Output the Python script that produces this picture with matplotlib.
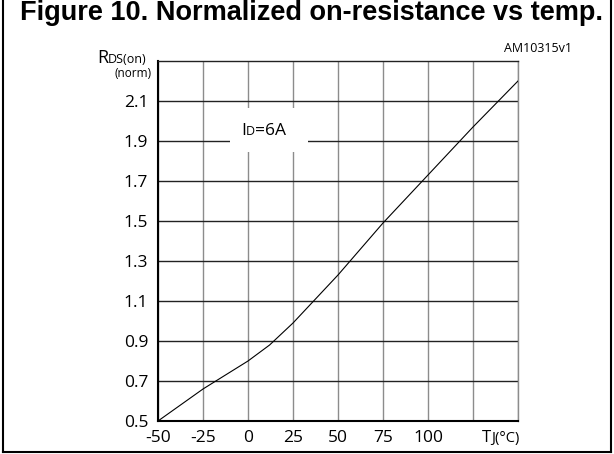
import matplotlib
matplotlib.use('Agg')
import matplotlib.pyplot as plt
from matplotlib.lines import Line2D
from matplotlib.patches import Rectangle

# data
temp_c = [-50, -25, 0, 12, 25, 50, 75, 100, 125, 150]
rds_norm = [0.50, 0.66, 0.80, 0.88, 0.99, 1.23, 1.49, 1.73, 1.97, 2.20]

x_ticks = [-50, -25, 0, 25, 50, 75, 100, 125, 150]
x_labels = ['-50', '-25', '0', '25', '50', '75', '100', '', '']
y_ticks = [0.5, 0.7, 0.9, 1.1, 1.3, 1.5, 1.7, 1.9, 2.1]
y_labels = ['0.5', '0.7', '0.9', '1.1', '1.3', '1.5', '1.7', '1.9', '2.1']

W, H = 614, 454
FONT = 'Open Sans'

fig = plt.figure(figsize=(W / 100, H / 100), dpi=100)
fig.patch.set_facecolor('white')
ax = fig.add_axes([158 / W, 33 / H, 360 / W, 360 / H])

ax.plot(temp_c, rds_norm, color='black', lw=0.8, zorder=3)

ax.set_xlim(-50, 150)
ax.set_ylim(0.5, 2.3)
ax.set_xticks(x_ticks)
ax.set_xticklabels(x_labels, fontfamily=FONT, fontsize=12.5)
ax.set_yticks(y_ticks)
ax.set_yticklabels(y_labels, fontfamily=FONT, fontsize=12.5)
ax.tick_params(length=0)
ax.tick_params(axis='y', pad=7)
ax.tick_params(axis='x', pad=6.5)

ax.set_axisbelow(True)
ax.grid(axis='y', color='#222222', lw=1.0)
ax.grid(axis='x', color='#8c8c8c', lw=1.0)

for side in ['left', 'bottom']:
    ax.spines[side].set_linewidth(1.5)
    ax.spines[side].set_color('black')
ax.spines['top'].set_linewidth(1.0)
ax.spines['top'].set_color('#222222')
ax.spines['right'].set_linewidth(1.0)
ax.spines['right'].set_color('#8c8c8c')

# white patch behind the current label
ax.add_patch(Rectangle((-10, 1.845), 43.3, 0.22, facecolor='white',
                       edgecolor='none', zorder=2))

renderer = fig.canvas.get_renderer()


def compound(x, y, parts):
    # x, y in pixels from top-left, parts = [(text, size), ...]
    for s, size in parts:
        t = fig.text(x / W, 1 - y / H, s, fontsize=size, fontfamily=FONT,
                     ha='left', va='baseline')
        x = t.get_window_extent(renderer).x1


compound(241, 135, [('I', 12.5), ('D', 9), ('=6A', 12.5)])
compound(97, 63, [('R', 13), ('DS(on)', 9)])
fig.text(152 / W, 1 - 74 / H, '(norm)', fontsize=8.5, fontfamily=FONT,
         ha='right', va='center')
compound(482, 442, [('T', 12), ('J(°C)', 10.5)])
fig.text(572 / W, 1 - 49 / H, 'AM10315v1', fontsize=9, fontfamily=FONT,
         ha='right', va='center')

fig.text(311 / W, 1 - 13.5 / H, 'Figure 10. Normalized on-resistance vs temp.',
         fontsize=19.5, fontweight='bold', fontfamily='Liberation Sans',
         ha='center', va='center')

# frame around the figure
for xs, ys in [([3, 3], [0, 452]), ([611, 611], [0, 452]), ([3, 611], [452, 452])]:
    fig.add_artist(Line2D([v / W for v in xs], [1 - v / H for v in ys],
                          color='black', lw=1.5, transform=fig.transFigure))

fig.savefig('out.png', dpi=100)
